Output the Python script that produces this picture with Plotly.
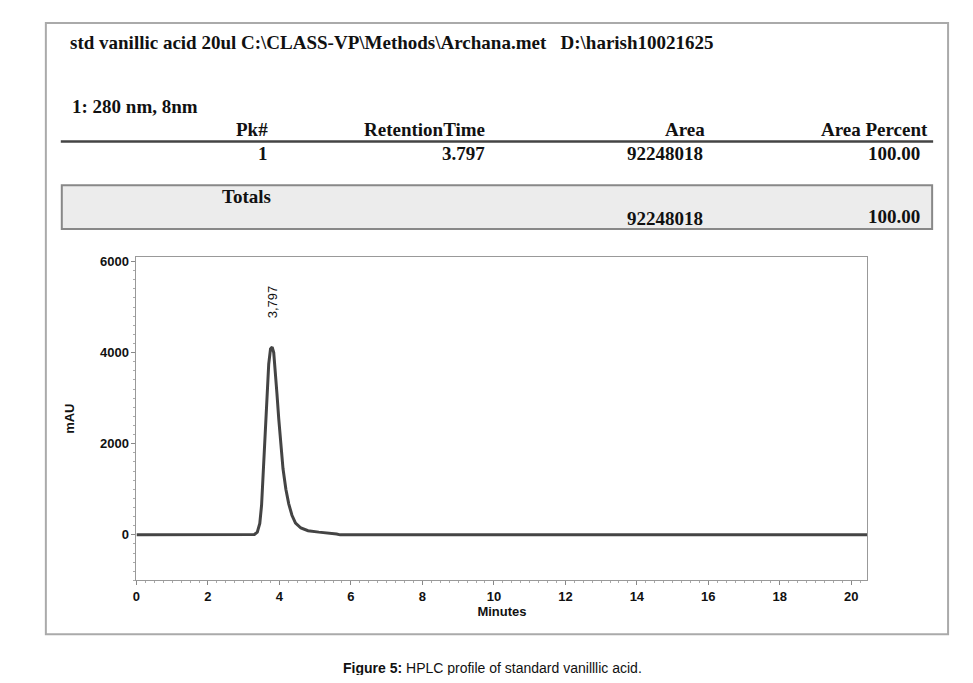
import plotly.graph_objects as go

W, H = 957, 667
OFF = 8
time_min = [0, 3.0, 3.3, 3.38, 3.45, 3.5, 3.55, 3.6, 3.65, 3.7, 3.75, 3.797, 3.84, 3.88, 3.93, 3.98, 4.04, 4.1, 4.18, 4.26, 4.35, 4.45, 4.6, 4.8, 5.1, 5.4, 5.6, 5.7, 8, 12, 16, 20.5]
mau = [0, 0, 10, 60, 250, 650, 1400, 2300, 3100, 3750, 4080, 4120, 4000, 3650, 3100, 2550, 1950, 1450, 1000, 680, 430, 260, 150, 90, 60, 40, 20, 0, 0, 0, 0, 0]
peak_label = "3,797"
peak_rt = 3.797
peak_h = 4120
title_line = "std vanillic acid 20ul C:\\CLASS-VP\\Methods\\Archana.met   D:\\harish10021625"
channel = "1: 280 nm, 8nm"
headers = ["Pk#", "RetentionTime", "Area", "Area Percent"]
row = ["1", "3.797", "92248018", "100.00"]
totals = ["92248018", "100.00"]

def px(x): return (x - OFF) / W
def py(y): return 1 - (y - OFF) / H

fig = go.Figure(go.Scatter(x=time_min, y=mau, mode="lines", line=dict(color="#444", width=3), hoverinfo="skip"))
fig.add_annotation(x=peak_rt, y=peak_h, text=peak_label, textangle=-90, showarrow=False, yshift=45, font=dict(size=13, color="#111", family="Arial"))

serif = "Liberation Serif"
def t(x, y, s, anchor="left", size=19, fam=serif):
    fig.add_annotation(x=px(x), y=py(y), xref="paper", yref="paper", text=s, showarrow=False,
                       xanchor=anchor, yanchor="middle", font=dict(family=fam, size=size, color="#111"))
t(64, 40, "<b>%s</b>" % title_line)
t(66, 104, "<b>%s</b>" % channel)
hx = [267, 485, 706, 930]
for x, s in zip(hx, headers): t(x, 127, "<b>%s</b>" % s, "right")
rx = [267, 485, 704, 922]
for x, s in zip(rx, row): t(x, 151, "<b>%s</b>" % s, "right")
t(270, 194, "<b>Totals</b>", "right")
t(704, 216, "<b>%s</b>" % totals[0], "right")
t(922, 214, "<b>%s</b>" % totals[1], "right")
t(491, 668, "<b>Figure 5:</b> HPLC profile of standard vanilllic acid.", "center", 14, "Arial")

shapes = [
    dict(type="rect", x0=px(42), x1=px(948), y0=py(20), y1=py(634), line=dict(color="#aaa", width=2)),
    dict(type="line", x0=px(57), x1=px(933), y0=py(139), y1=py(139), line=dict(color="#444", width=2.5)),
    dict(type="rect", x0=px(58), x1=px(932), y0=py(183), y1=py(227), line=dict(color="#888", width=2), fillcolor="#ececec", layer="below"),
]
for s in shapes: s.update(xref="paper", yref="paper")
fig.update_layout(shapes=shapes)

axfont = dict(family="Arial", size=13, color="#111")
fig.update_layout(
    width=W, height=H, margin=dict(l=0, r=0, t=0, b=0), showlegend=False,
    plot_bgcolor="white", paper_bgcolor="white",
    xaxis=dict(domain=[px(133), px(867)], range=[0, 20.45], tickvals=list(range(0, 21, 2)),
               ticktext=["<b>%d</b>" % v for v in range(0, 21, 2)], tickfont=axfont,
               showgrid=False, zeroline=False, showline=True, linecolor="#999", mirror=True,
               ticks="outside", ticklen=4, tickcolor="#888",
               minor=dict(dtick=0.25, ticks="outside", ticklen=2, tickcolor="#aaa"),
               title=dict(text="<b>Minutes</b>", font=axfont, standoff=2)),
    yaxis=dict(domain=[py(580), py(255)], range=[-1000, 6100], tickvals=[0, 2000, 4000, 6000],
               ticktext=["<b>%d</b>" % v for v in [0, 2000, 4000, 6000]], tickfont=axfont,
               showgrid=False, zeroline=False, showline=True, linecolor="#999", mirror=True,
               ticks="outside", ticklen=4, tickcolor="#888",
               minor=dict(dtick=200, ticks="outside", ticklen=2, tickcolor="#aaa"),
               title=dict(text="<b>mAU</b>", font=axfont, standoff=22)),
)
fig.write_html("out.html")
